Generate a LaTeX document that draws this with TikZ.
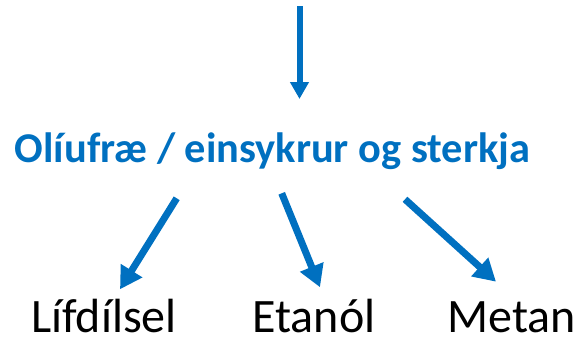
\documentclass[tikz,border=0pt]{standalone}
\usepackage{fontspec}
\setmainfont{Carlito}
\usetikzlibrary{arrows.meta}
\definecolor{oblue}{HTML}{0070C0}
\tikzset{
  bigarrow/.style={draw=oblue, line width=7pt, -{Triangle[length=22pt,width=24pt]}},
  toparrow/.style={draw=oblue, line width=6pt, -{Triangle[length=17pt,width=18pt]}},
  head/.style={font=\fontsize{42.4}{48}\selectfont\bfseries, text=oblue, inner sep=0pt, anchor=base},
  prod/.style={font=\fontsize{48}{54}\selectfont, text=black, inner sep=0pt, anchor=base}
}
\begin{document}
\begin{tikzpicture}[x=1pt,y=-1pt]
\useasboundingbox (0,0) rectangle (578,340);
\node[head] (heading) at (272.5,162) {Olíufræ / einsykrur og sterkja};
\node[prod] (bio) at (104,332) {Lífdílsel};
\node[prod] (eta) at (314,332) {Etanól};
\node[prod] (met) at (511.5,332) {Metan};
\coordinate (topstart) at (299.5,6);
\coordinate (topend) at (299.5,99);
\coordinate (a1s) at (176.7,198.3);
\coordinate (a1e) at (120,289.3);
\coordinate (a2s) at (281.7,193.3);
\coordinate (a2e) at (320,287.3);
\coordinate (a3s) at (405,199.3);
\coordinate (a3e) at (496,281.7);
\draw[toparrow] (topstart) -- (topend);
\draw[bigarrow] (a1s) -- (a1e);
\draw[bigarrow] (a2s) -- (a2e);
\draw[bigarrow] (a3s) -- (a3e);
\end{tikzpicture}
\end{document}
